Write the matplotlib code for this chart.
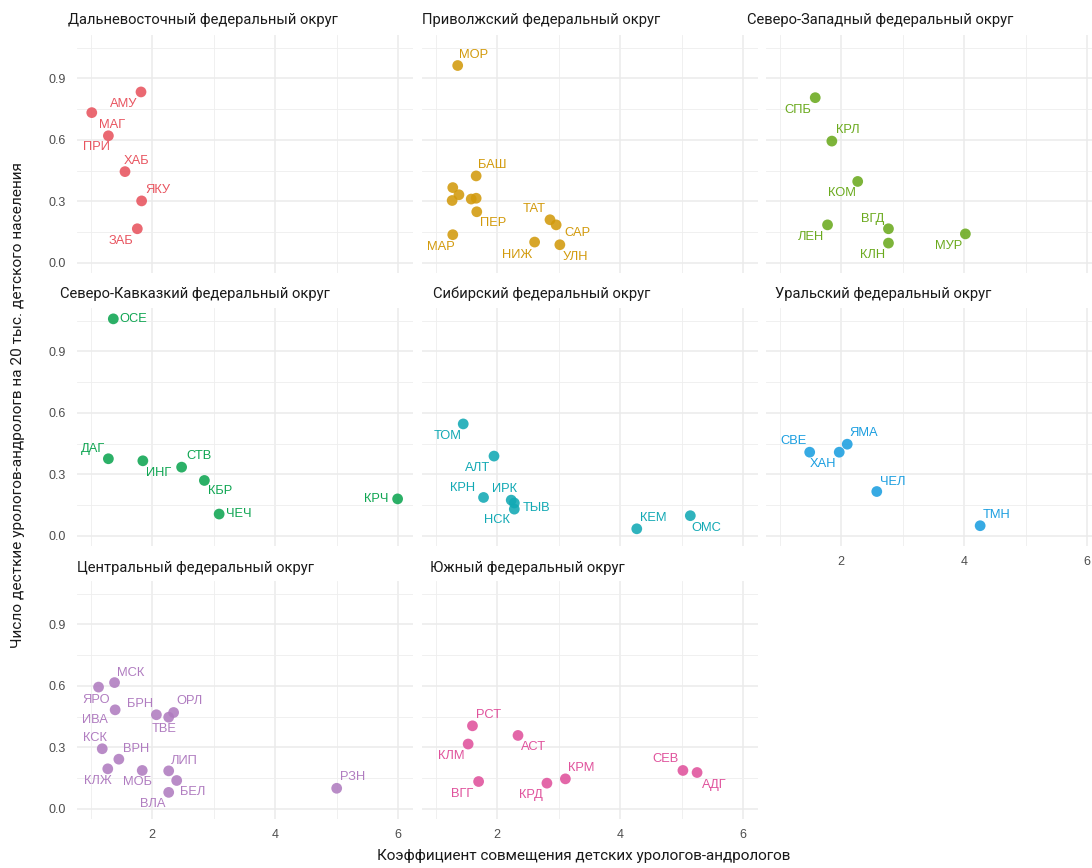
import matplotlib
matplotlib.use('Agg')
import matplotlib.pyplot as plt
from matplotlib import font_manager
from matplotlib.ticker import MultipleLocator

# fonts
installed = {f.name for f in font_manager.fontManager.ttflist}
narrow = 'Liberation Sans Narrow' if 'Liberation Sans Narrow' in installed else 'Roboto'
plain = 'Liberation Sans' if 'Liberation Sans' in installed else 'DejaVu Sans'

# ---------------- data ----------------
districts = ['Дальневосточный федеральный округ', 'Приволжский федеральный округ',
             'Северо-Западный федеральный округ', 'Северо-Кавказкий федеральный округ',
             'Сибирский федеральный округ', 'Уральский федеральный округ',
             'Центральный федеральный округ', 'Южный федеральный округ']

dfo_codes = ['АМУ', 'МАГ', 'ПРИ', 'ХАБ', 'ЯКУ', 'ЗАБ']
dfo_x = [1.82, 1.02, 1.29, 1.56, 1.83, 1.76]
dfo_y = [0.834, 0.733, 0.620, 0.445, 0.302, 0.166]

pfo_codes = ['МОР', 'БАШ', '', '', '', '', '', 'ПЕР', 'ТАТ', 'САР', 'МАР', 'НИЖ', 'УЛН']
pfo_x = [1.36, 1.66, 1.28, 1.38, 1.27, 1.58, 1.66, 1.67, 2.86, 2.96, 1.28, 2.61, 3.02]
pfo_y = [0.963, 0.424, 0.367, 0.332, 0.304, 0.311, 0.315, 0.249, 0.210, 0.185, 0.137, 0.101, 0.088]

szfo_codes = ['СПБ', 'КРЛ', 'КОМ', 'ЛЕН', 'ВГД', 'КЛН', 'МУР']
szfo_x = [1.58, 1.85, 2.27, 1.78, 2.77, 2.77, 4.02]
szfo_y = [0.806, 0.594, 0.397, 0.185, 0.166, 0.096, 0.141]

skfo_codes = ['ОСЕ', 'ДАГ', 'ИНГ', 'СТВ', 'КБР', 'ЧЕЧ', 'КРЧ']
skfo_x = [1.37, 1.29, 1.85, 2.48, 2.85, 3.09, 5.99]
skfo_y = [1.059, 0.376, 0.366, 0.335, 0.270, 0.106, 0.180]

sfo_codes = ['ТОМ', 'АЛТ', 'КРН', 'ИРК', 'ТЫВ', 'НСК', 'КЕМ', 'ОМС']
sfo_x = [1.45, 1.95, 1.78, 2.23, 2.28, 2.28, 4.27, 5.14]
sfo_y = [0.546, 0.389, 0.187, 0.174, 0.160, 0.130, 0.034, 0.098]

ufo_codes = ['СВЕ', 'ХАН', 'ЯМА', 'ЧЕЛ', 'ТМН']
ufo_x = [1.49, 1.97, 2.10, 2.58, 4.26]
ufo_y = [0.408, 0.408, 0.447, 0.216, 0.049]

cfo_codes = ['МСК', 'ЯРО', 'ИВА', 'БРН', 'ТВЕ', 'ОРЛ', 'КСК', 'ВРН', 'КЛЖ', 'МОБ',
             'ЛИП', 'БЕЛ', 'ВЛА', 'РЗН']
cfo_x = [1.39, 1.13, 1.40, 2.07, 2.27, 2.35, 1.19, 1.46, 1.28, 1.84, 2.27, 2.40, 2.27, 5.00]
cfo_y = [0.616, 0.594, 0.483, 0.459, 0.447, 0.470, 0.293, 0.242, 0.195, 0.187,
         0.185, 0.138, 0.080, 0.100]

yfo_codes = ['РСТ', 'КЛМ', 'АСТ', 'ВГГ', 'КРД', 'КРМ', 'СЕВ', 'АДГ']
yfo_x = [1.60, 1.53, 2.34, 1.70, 2.81, 3.11, 5.02, 5.25]
yfo_y = [0.405, 0.316, 0.358, 0.133, 0.125, 0.146, 0.187, 0.177]

# label offsets in pixels (dx right, dy down) -- ggrepel placement copied by eye
dfo_off = [(-17, 12), (20, 12), (-12, 11), (12, -11), (16, -11), (-16, 12)]
pfo_off = [(16, -11), (16, -11), None, None, None, None, None, (16, 11), (-16, -11),
           (21, 8), (-12, 12), (-17, 13), (16, 12)]
szfo_off = [(-17, 12), (16, -11), (-16, 12), (-17, 12), (-16, -10), (-16, 12), (-17, 12)]
skfo_off = [(20, 0), (-15, -10), (16, 12), (17, -11), (16, 11), (20, 0), (-21, 0)]
sfo_off = [(-16, 12), (-16, 12), (-21, -9), (-7, -11), (22, 5), (-17, 11), (16, -11), (16, 12)]
ufo_off = [(-16, -11), (-16, 12), (16, -11), (16, -10), (16, -11)]
cfo_off = [(16, -10), (-2, 13), (-20, 10), (-16, -11), (-5, 12), (16, -11), (-7, -11),
           (17, -10), (-10, 12), (-5, 12), (16, -10), (16, 12), (-16, 12), (16, -11)]
yfo_off = [(16, -11), (-17, 12), (16, 12), (-16, 12), (-16, 12), (16, -11), (-17, -11), (17, 12)]

colors = ['#E8545F', '#D29A0C', '#6BAA1E', '#0FA552', '#12A9B4', '#1B9EE0', '#B07CC0', '#E0529C']

panels = [(dfo_codes, dfo_x, dfo_y, dfo_off), (pfo_codes, pfo_x, pfo_y, pfo_off),
          (szfo_codes, szfo_x, szfo_y, szfo_off), (skfo_codes, skfo_x, skfo_y, skfo_off),
          (sfo_codes, sfo_x, sfo_y, sfo_off), (ufo_codes, ufo_x, ufo_y, ufo_off),
          (cfo_codes, cfo_x, cfo_y, cfo_off), (yfo_codes, yfo_x, yfo_y, yfo_off)]

# ---------------- layout (pixels) ----------------
W, H = 1092, 868
col_left = [77, 422, 766]
row_top = [35, 308, 581]
pw, ph = 336, 238
title_pos = [(68, 20), (422, 20), (747, 20), (60, 294), (433, 294), (775, 294),
             (77, 568), (430, 568)]
px2pt = 0.72

fig = plt.figure(figsize=(W / 100, H / 100), dpi=100)
fig.patch.set_facecolor('white')

for i, (codes, xs, ys, offs) in enumerate(panels):
    r, c = divmod(i, 3)
    ax = fig.add_axes([col_left[c] / W, 1 - (row_top[r] + ph) / H, pw / W, ph / H])
    ax.set_xlim(0.78, 6.24)
    ax.set_ylim(-0.05, 1.112)
    ax.xaxis.set_major_locator(MultipleLocator(2))
    ax.xaxis.set_minor_locator(MultipleLocator(1))
    ax.yaxis.set_major_locator(MultipleLocator(0.3))
    ax.yaxis.set_minor_locator(MultipleLocator(0.15))
    ax.grid(which='major', color='#EBEBEB', lw=1.1)
    ax.grid(which='minor', color='#EEEEEE', lw=0.6)
    ax.set_axisbelow(True)
    for s in ax.spines.values():
        s.set_visible(False)
    ax.tick_params(which='both', length=0, labelsize=9, labelcolor='#4D4D4D')
    ax.tick_params(axis='y', pad=8)
    ax.tick_params(axis='x', pad=7)
    for lab in ax.get_xticklabels() + ax.get_yticklabels():
        lab.set_fontfamily(plain)
    ax.yaxis.set_major_formatter(plt.FuncFormatter(lambda v, p: f'{v:.1f}'))
    ax.xaxis.set_major_formatter(plt.FuncFormatter(lambda v, p: f'{v:.0f}'))
    if c != 0:
        ax.tick_params(axis='y', labelleft=False)
    bottom = (r == 2) or (r == 1 and c == 2)
    if not bottom:
        ax.tick_params(axis='x', labelbottom=False)

    col = colors[i]
    ax.scatter(xs, ys, s=60, color=col, alpha=0.88, edgecolors='none', zorder=3)
    for code, x, y, off in zip(codes, xs, ys, offs):
        if not code:
            continue
        ax.annotate(code, (x, y), xytext=(off[0] * px2pt, -off[1] * px2pt),
                    textcoords='offset points', ha='center', va='center',
                    fontsize=9.3, color=col, fontfamily=plain, zorder=4)

    tx, ty = title_pos[i]
    fig.text(tx / W, 1 - ty / H, districts[i], ha='left', va='center',
             fontsize=10.6, fontfamily=narrow, color='#1A1A1A')

fig.text(584 / W, 1 - 856 / H, 'Коэффициент совмещения детских урологов-андрологов',
         ha='center', va='center', fontsize=11, fontfamily=narrow, color='#1A1A1A')
fig.text(18 / W, 1 - 405 / H, 'Число десткие урологов-андрологв на 20 тыс. детского населения',
         ha='center', va='center', rotation=90, fontsize=11.1, fontfamily=narrow,
         color='#1A1A1A')

fig.savefig('out.png', dpi=100, facecolor='white')
